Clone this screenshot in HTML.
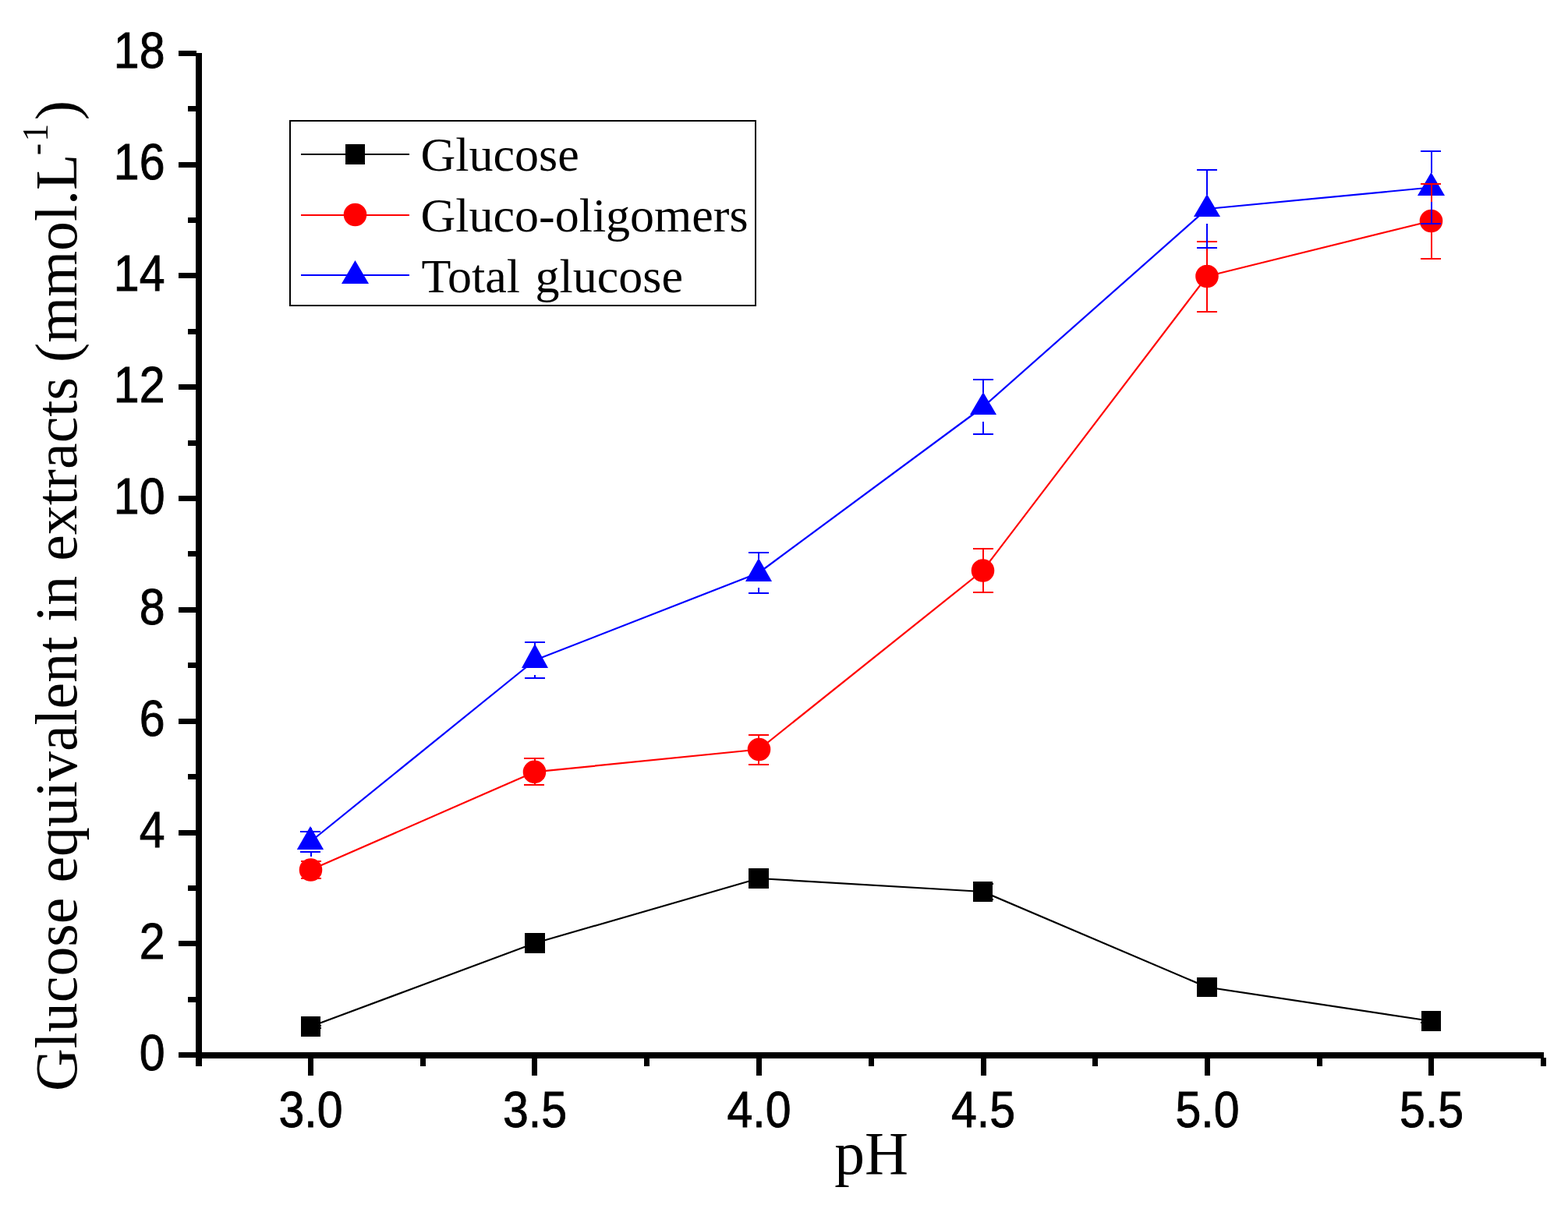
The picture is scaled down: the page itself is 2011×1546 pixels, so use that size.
<!DOCTYPE html><html><head><meta charset="utf-8"><title>Glucose equivalent vs pH</title><style>html,body{margin:0;padding:0;background:#fff;width:2011px;height:1546px;overflow:hidden}svg{display:block}</style></head><body>
<svg width="2011" height="1546" viewBox="0 0 2011 1546">
<rect x="0" y="0" width="2011" height="1546" fill="#fff"/>
<g fill="#000" shape-rendering="crispEdges">
<rect x="251" y="68" width="8" height="1300"/>
<rect x="251" y="1350" width="1729" height="8"/>
<rect x="229" y="1350" width="23" height="7"/>
<rect x="241" y="1279" width="11" height="7"/>
<rect x="229" y="1207" width="23" height="7"/>
<rect x="241" y="1136" width="11" height="7"/>
<rect x="229" y="1065" width="23" height="7"/>
<rect x="241" y="993" width="11" height="7"/>
<rect x="229" y="922" width="23" height="7"/>
<rect x="241" y="850" width="11" height="7"/>
<rect x="229" y="779" width="23" height="7"/>
<rect x="241" y="707" width="11" height="7"/>
<rect x="229" y="636" width="23" height="7"/>
<rect x="241" y="565" width="11" height="7"/>
<rect x="229" y="493" width="23" height="7"/>
<rect x="241" y="422" width="11" height="7"/>
<rect x="229" y="350" width="23" height="7"/>
<rect x="241" y="279" width="11" height="7"/>
<rect x="229" y="208" width="23" height="7"/>
<rect x="241" y="136" width="11" height="7"/>
<rect x="229" y="65" width="23" height="7"/>
<rect x="251" y="1357" width="7" height="11"/>
<rect x="395" y="1357" width="7" height="23"/>
<rect x="539" y="1357" width="7" height="11"/>
<rect x="682" y="1357" width="7" height="23"/>
<rect x="826" y="1357" width="7" height="11"/>
<rect x="970" y="1357" width="7" height="23"/>
<rect x="1114" y="1357" width="7" height="11"/>
<rect x="1258" y="1357" width="7" height="23"/>
<rect x="1401" y="1357" width="7" height="11"/>
<rect x="1545" y="1357" width="7" height="23"/>
<rect x="1689" y="1357" width="7" height="11"/>
<rect x="1832" y="1357" width="7" height="23"/>
<rect x="1976" y="1357" width="7" height="11"/>
</g>
<g font-family="Liberation Sans, Arial, sans-serif" font-size="64.2" fill="#000" stroke="#000" stroke-width="0.9" stroke-linejoin="miter">
<text transform="translate(211.5 1372.75) scale(0.92 1)" text-anchor="end">0</text>
<text transform="translate(211.5 1229.92) scale(0.92 1)" text-anchor="end">2</text>
<text transform="translate(211.5 1087.08) scale(0.92 1)" text-anchor="end">4</text>
<text transform="translate(211.5 944.25) scale(0.92 1)" text-anchor="end">6</text>
<text transform="translate(211.5 801.42) scale(0.92 1)" text-anchor="end">8</text>
<text transform="translate(211.5 658.58) scale(0.92 1)" text-anchor="end">10</text>
<text transform="translate(211.5 515.75) scale(0.92 1)" text-anchor="end">12</text>
<text transform="translate(211.5 372.92) scale(0.92 1)" text-anchor="end">14</text>
<text transform="translate(211.5 230.08) scale(0.92 1)" text-anchor="end">16</text>
<text transform="translate(211.5 87.25) scale(0.92 1)" text-anchor="end">18</text>
<text transform="translate(398.50 1446.1) scale(0.92 1)" text-anchor="middle">3.0</text>
<text transform="translate(686.00 1446.1) scale(0.92 1)" text-anchor="middle">3.5</text>
<text transform="translate(973.50 1446.1) scale(0.92 1)" text-anchor="middle">4.0</text>
<text transform="translate(1261.00 1446.1) scale(0.92 1)" text-anchor="middle">4.5</text>
<text transform="translate(1548.50 1446.1) scale(0.92 1)" text-anchor="middle">5.0</text>
<text transform="translate(1836.00 1446.1) scale(0.92 1)" text-anchor="middle">5.5</text>
</g>
<text x="1117.5" y="1506" font-family="Liberation Serif, Times New Roman, serif" font-size="77.5" text-anchor="middle">pH</text>
<text transform="translate(98 1400) rotate(-90)" font-family="Liberation Serif, Times New Roman, serif" font-size="75.83">Glucose equivalent in extracts (mmol.L<tspan font-size="46" dy="-37" dx="-1.5">-</tspan><tspan font-size="46" dx="2">1</tspan><tspan dy="37" dx="4.5">)</tspan></text>
<polyline points="398.5,1317.0 686.0,1210.0 973.0,1127.0 1260.5,1144.0 1548.0,1266.5 1835.5,1310.0" fill="none" stroke="#000" stroke-width="2.2" stroke-linejoin="round"/>
<polyline points="398.5,1116.0 685.5,990.4 973.5,961.5 1260.5,732.0 1548.0,354.5 1835.5,283.5" fill="none" stroke="#f00" stroke-width="2.2" stroke-linejoin="round"/>
<polyline points="398.0,1080.0 686.0,847.0 973.0,735.0 1261.0,522.0 1548.0,268.0 1835.5,240.5" fill="none" stroke="#00f" stroke-width="2.2" stroke-linejoin="round"/>
<rect x="386" y="1304" width="25" height="26" fill="#000" shape-rendering="crispEdges"/>
<rect x="673" y="1197" width="26" height="26" fill="#000" shape-rendering="crispEdges"/>
<rect x="960" y="1114" width="26" height="26" fill="#000" shape-rendering="crispEdges"/>
<rect x="1248" y="1131" width="25" height="26" fill="#000" shape-rendering="crispEdges"/>
<rect x="1535" y="1254" width="26" height="25" fill="#000" shape-rendering="crispEdges"/>
<rect x="1823" y="1297" width="25" height="26" fill="#000" shape-rendering="crispEdges"/>
<circle cx="398.5" cy="1116" r="14.8" fill="#f00"/>
<circle cx="685.5" cy="990.4" r="14.8" fill="#f00"/>
<circle cx="973.5" cy="961.5" r="14.8" fill="#f00"/>
<circle cx="1260.5" cy="732" r="14.8" fill="#f00"/>
<circle cx="1548" cy="354.5" r="14.8" fill="#f00"/>
<circle cx="1835.5" cy="283.5" r="14.8" fill="#f00"/>
<polygon points="398,1060 415.1,1090 380.8,1090" fill="#00f"/>
<polygon points="686,826 703,857 669,857" fill="#00f"/>
<polygon points="973,716 990,746 956,746" fill="#00f"/>
<polygon points="1261,503 1278,532 1244,532" fill="#00f"/>
<polygon points="1548,249 1565,278 1531,278" fill="#00f"/>
<polygon points="1835.5,221 1853,251 1818,251" fill="#00f"/>
<g fill="#000" shape-rendering="crispEdges"><rect x="398" y="1304.0" width="2" height="11.0"/><rect x="398" y="1320.0" width="2" height="10.0"/><rect x="386" y="1315" width="26" height="2"/><rect x="386" y="1318" width="26" height="2"/></g>
<g fill="#000" shape-rendering="crispEdges"><rect x="1260" y="1131.0" width="2" height="2.0"/><rect x="1260" y="1155.0" width="2" height="2.0"/><rect x="1248" y="1133" width="26" height="2"/><rect x="1248" y="1153" width="26" height="2"/></g>
<g fill="#000" shape-rendering="crispEdges"><rect x="1835" y="1297.0" width="2" height="10.0"/><rect x="1835" y="1313.0" width="2" height="10.0"/><rect x="1822" y="1307" width="26" height="2"/><rect x="1822" y="1311" width="26" height="2"/></g>
<g fill="#f00" shape-rendering="crispEdges"><rect x="398" y="1102.0" width="2" height="2.0"/><rect x="398" y="1128.0" width="2" height="2.0"/><rect x="386" y="1104" width="26" height="2"/><rect x="386" y="1126" width="26" height="2"/></g>
<g fill="#f00" shape-rendering="crispEdges"><rect x="685" y="972.0" width="2" height="4.0"/><rect x="685" y="1004.0" width="2" height="4.0"/><rect x="672" y="972" width="26" height="2"/><rect x="672" y="1006" width="26" height="2"/></g>
<g fill="#f00" shape-rendering="crispEdges"><rect x="972" y="942.0" width="2" height="6.0"/><rect x="972" y="976.0" width="2" height="6.0"/><rect x="960" y="942" width="26" height="2"/><rect x="960" y="980" width="26" height="2"/></g>
<g fill="#f00" shape-rendering="crispEdges"><rect x="1260" y="703.0" width="2" height="15.0"/><rect x="1260" y="746.0" width="2" height="15.0"/><rect x="1248" y="703" width="26" height="2"/><rect x="1248" y="759" width="26" height="2"/></g>
<g fill="#f00" shape-rendering="crispEdges"><rect x="1547" y="309.0" width="2" height="32.0"/><rect x="1547" y="369.0" width="2" height="32.0"/><rect x="1535" y="309" width="26" height="2"/><rect x="1535" y="399" width="26" height="2"/></g>
<g fill="#f00" shape-rendering="crispEdges"><rect x="1835" y="235.0" width="2" height="35.0"/><rect x="1835" y="298.0" width="2" height="35.0"/><rect x="1822" y="235" width="26" height="2"/><rect x="1822" y="331" width="26" height="2"/></g>
<g fill="#00f" shape-rendering="crispEdges"><rect x="398" y="1061.5" width="2" height="4.5"/><rect x="398" y="1094.0" width="2" height="4.5"/><rect x="385" y="1066" width="26" height="2"/><rect x="385" y="1092" width="26" height="2"/></g>
<g fill="#00f" shape-rendering="crispEdges"><rect x="685" y="823.0" width="2" height="5.5"/><rect x="685" y="865.5" width="2" height="5.5"/><rect x="673" y="823" width="26" height="2"/><rect x="673" y="869" width="26" height="2"/></g>
<g fill="#00f" shape-rendering="crispEdges"><rect x="972" y="708.0" width="2" height="8.5"/><rect x="972" y="753.5" width="2" height="8.5"/><rect x="960" y="708" width="26" height="2"/><rect x="960" y="760" width="26" height="2"/></g>
<g fill="#00f" shape-rendering="crispEdges"><rect x="1260" y="486.0" width="2" height="17.5"/><rect x="1260" y="540.5" width="2" height="17.5"/><rect x="1248" y="486" width="26" height="2"/><rect x="1248" y="556" width="26" height="2"/></g>
<g fill="#00f" shape-rendering="crispEdges"><rect x="1547" y="217.0" width="2" height="32.5"/><rect x="1547" y="286.5" width="2" height="32.5"/><rect x="1535" y="217" width="26" height="2"/><rect x="1535" y="317" width="26" height="2"/></g>
<g fill="#00f" shape-rendering="crispEdges"><rect x="1835" y="193.0" width="2" height="29.0"/><rect x="1835" y="259.0" width="2" height="29.0"/><rect x="1822" y="193" width="26" height="2"/><rect x="1822" y="286" width="26" height="2"/></g>
<g>
<rect x="372" y="155" width="597" height="237" fill="none" stroke="#000" stroke-width="2" shape-rendering="crispEdges"/>
<rect x="386" y="197" width="139" height="2" fill="#000" shape-rendering="crispEdges"/>
<rect x="443" y="185" width="25" height="26" fill="#000" shape-rendering="crispEdges"/>
<rect x="386" y="275" width="139" height="2" fill="#f00" shape-rendering="crispEdges"/>
<circle cx="455.5" cy="275.5" r="14.8" fill="#f00"/>
<rect x="386" y="352" width="139" height="2" fill="#00f" shape-rendering="crispEdges"/>
<polygon points="455.5,334 473,364 438,364" fill="#00f"/>
<g font-family="Liberation Serif, Times New Roman, serif" font-size="62" fill="#000">
<text x="539.5" y="218.5">Glucose</text>
<text x="539.5" y="297">Gluco-oligomers</text>
<text x="540.5" y="374.5">Total <tspan dx="4">glucose</tspan></text>
</g></g>
</svg></body></html>
